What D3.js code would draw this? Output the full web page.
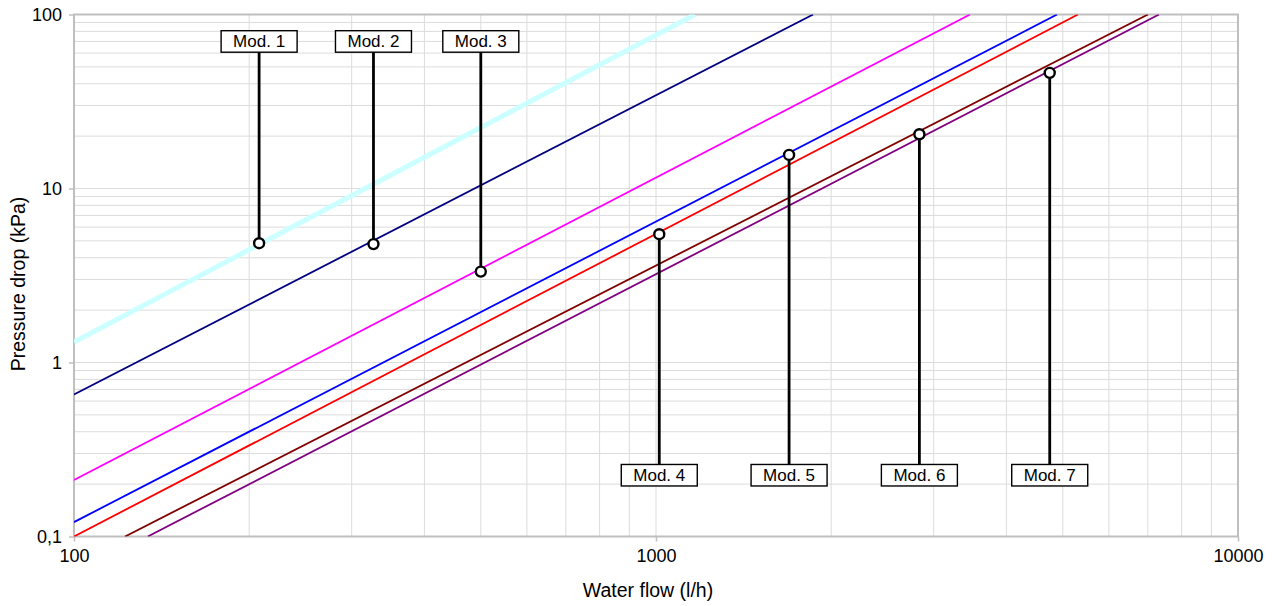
<!DOCTYPE html>
<html>
<head>
<meta charset="utf-8">
<script src="https://cdn.jsdelivr.net/npm/d3@7"></script>
<style>
  body { margin: 0; background: #fff; }
  svg { font-family: "Liberation Sans", Arial, sans-serif; }
</style>
</head>
<body>
<div id="chart"></div>
<script>
// curves: start and end points (log-log straight lines)
var lineStartFlow = [100, 100, 100, 100, 100, 122.4, 133.9];
var lineStartDrop = [1.31, 0.655, 0.211, 0.121, 0.1, 0.1, 0.1];
var lineEndFlow = [1167, 1862, 3464, 4887, 5309, 7003, 7316];
var lineEndDrop = [100, 100, 100, 100, 100, 100, 100];
var lineColors = ["#ccffff", "#000080", "#ff00ff", "#0000ff", "#ff0000", "#800000", "#800080"];

// model operating points
var modelNames = ["Mod. 1", "Mod. 2", "Mod. 3", "Mod. 4", "Mod. 5", "Mod. 6", "Mod. 7"];
var modelFlow = [208, 327, 500, 1013, 1693, 2835, 4748];
var modelDrop = [4.85, 4.79, 3.33, 5.46, 15.6, 20.5, 46.2];
var labelDrop = [70, 70, 70, 0.225, 0.225, 0.225, 0.225];

var xTickLabels = [100, 1000, 10000];
var yTickLabels = [0.1, 1, 10, 100];

var svgWidth = 1276;
var svgHeight = 606;

var margin = {
  top: 14.5,
  right: 38,
  bottom: 69.5,
  left: 74
};

var plotWidth = svgWidth - margin.left - margin.right;
var plotHeight = svgHeight - margin.top - margin.bottom;

var svg = d3.select("#chart")
  .append("svg")
  .attr("width", svgWidth)
  .attr("height", svgHeight);

var plot = svg.append("g")
  .attr("transform", `translate(${margin.left},${margin.top})`);

var x = d3.scaleLog().domain([100, 10000]).range([0, plotWidth]);
var y = d3.scaleLog().domain([0.1, 100]).range([plotHeight, 0]);

svg.append("defs").append("clipPath").attr("id", "clip")
  .append("rect").attr("width", plotWidth).attr("height", plotHeight);

// grid
plot.append("g")
  .selectAll("line.gx")
  .data(x.ticks())
  .enter().append("line")
  .attr("x1", d => x(d)).attr("x2", d => x(d))
  .attr("y1", 0).attr("y2", plotHeight)
  .attr("stroke", "#dcdcdc").attr("stroke-width", 1);

plot.append("g")
  .selectAll("line.gy")
  .data(y.ticks())
  .enter().append("line")
  .attr("y1", d => y(d)).attr("y2", d => y(d))
  .attr("x1", 0).attr("x2", plotWidth)
  .attr("stroke", "#dcdcdc").attr("stroke-width", 1);

// axes
var fmt = d => String(d).replace(".", ",");

var xAxis = plot.append("g")
  .attr("transform", `translate(0,${plotHeight})`)
  .call(d3.axisBottom(x).tickValues(xTickLabels).tickFormat(fmt).tickSize(5).tickPadding(8));

var yAxis = plot.append("g")
  .call(d3.axisLeft(y).tickValues(yTickLabels).tickFormat(fmt).tickSize(5).tickPadding(7));

[xAxis, yAxis].forEach(function(ax) {
  ax.select(".domain").remove();
  ax.selectAll(".tick line").attr("stroke", "#bfbfbf").attr("stroke-width", 1.5);
  ax.selectAll(".tick text")
    .attr("fill", "#000")
    .style("font-size", "18px")
    .style("font-family", "'Liberation Sans', Arial, sans-serif");
});

// frame
plot.append("rect")
  .attr("width", plotWidth).attr("height", plotHeight)
  .attr("fill", "none").attr("stroke", "#bfbfbf").attr("stroke-width", 2);

// curves
var curves = plot.append("g").attr("clip-path", "url(#clip)");
lineColors.forEach(function(c, i) {
  curves.append("line")
    .attr("x1", x(lineStartFlow[i])).attr("y1", y(lineStartDrop[i]))
    .attr("x2", x(lineEndFlow[i])).attr("y2", y(lineEndDrop[i]))
    .attr("stroke", c)
    .attr("stroke-width", i == 0 ? 5 : 1.8);
});

// leaders, markers, labels
var boxW = 76, boxH = 21.5;

var mods = plot.selectAll("g.mod")
  .data(modelNames)
  .enter().append("g");

mods.append("line")
  .attr("x1", (d, i) => x(modelFlow[i]))
  .attr("x2", (d, i) => x(modelFlow[i]))
  .attr("y1", (d, i) => y(modelDrop[i]))
  .attr("y2", (d, i) => y(labelDrop[i]))
  .attr("stroke", "#000")
  .attr("stroke-width", 2.8);

mods.append("circle")
  .attr("cx", (d, i) => x(modelFlow[i]))
  .attr("cy", (d, i) => y(modelDrop[i]))
  .attr("r", 5)
  .attr("fill", "#fff")
  .attr("stroke", "#000")
  .attr("stroke-width", 2.4);

mods.append("rect")
  .attr("x", (d, i) => x(modelFlow[i]) - boxW / 2)
  .attr("y", (d, i) => y(labelDrop[i]) - boxH / 2)
  .attr("width", boxW).attr("height", boxH)
  .attr("fill", "#fff")
  .attr("stroke", "#000")
  .attr("stroke-width", 1.4);

mods.append("text")
  .attr("x", (d, i) => x(modelFlow[i]))
  .attr("y", (d, i) => y(labelDrop[i]) + 6)
  .attr("text-anchor", "middle")
  .style("font-size", "17px")
  .text(d => d);

// axis titles
svg.append("text")
  .attr("x", margin.left + plotWidth / 2 - 8)
  .attr("y", 597)
  .attr("text-anchor", "middle")
  .style("font-size", "19.5px")
  .text("Water flow (l/h)");

svg.append("text")
  .attr("transform", "translate(25,284) rotate(-90)")
  .attr("text-anchor", "middle")
  .style("font-size", "19.5px")
  .text("Pressure drop (kPa)");
</script>
</body>
</html>
